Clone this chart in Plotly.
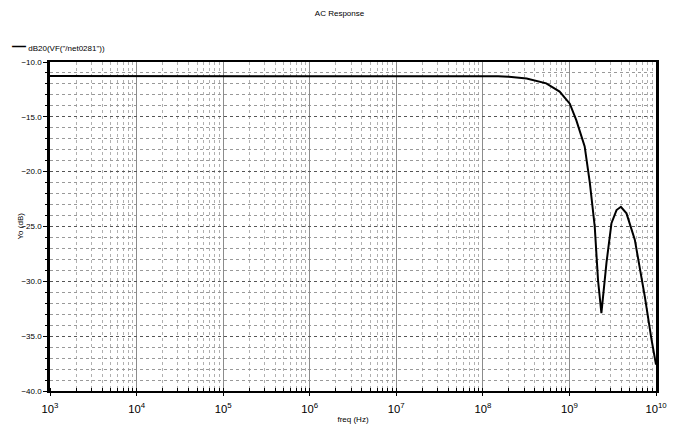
import plotly.graph_objects as go

# Data
freq_hz = [1e3, 1e4, 1e5, 1e6, 1e7, 1e8, 1.5e8, 2e8, 3.2e8, 5.4e8, 7.7e8,
           1.01e9, 1.2e9, 1.5e9, 1.6e9, 1.72e9, 1.96e9, 2.05e9, 2.14e9, 2.34e9,
           2.68e9, 3.06e9, 3.5e9, 3.93e9, 4.56e9, 5.69e9, 7.43e9, 8.87e9, 1e10]
gain_db = [-11.28, -11.28, -11.28, -11.28, -11.28, -11.28, -11.3, -11.35, -11.5, -11.95, -12.7,
           -13.8, -15.3, -17.7, -19.2, -21.0, -25.0, -27.1, -29.9, -32.9,
           -28.3, -24.7, -23.5, -23.2, -23.8, -26.2, -31.4, -35.3, -37.6]

series_name = 'dB20(VF("/net0281"))'
title_text = "AC Response"
x_title = "freq (Hz)"
y_title = "Yo (dB)"

FONT = "Liberation Sans, Arial, sans-serif"

fig = go.Figure()
fig.add_trace(go.Scatter(x=freq_hz, y=gain_db, mode="lines", name=series_name,
                         line=dict(color="black", width=2), showlegend=False))

fig.update_layout(
    width=679, height=428,
    margin=dict(l=50, r=23, t=62, b=37, autoexpand=False),
    paper_bgcolor="white", plot_bgcolor="white",
    font=dict(family=FONT, size=8, color="black"),
    title=dict(text=title_text, x=0.5, xref="container", xanchor="center",
               y=0.97, yref="container", yanchor="middle",
               font=dict(size=8, family=FONT)),
    annotations=[
        dict(text="<span style='font-size:14px'><b>—</b></span> " + series_name,
             xref="paper", yref="paper",
             x=-0.066, y=1.019, xanchor="left", yanchor="bottom",
             showarrow=False, font=dict(size=8, family=FONT)),
        dict(text=y_title, xref="paper", yref="paper", x=-0.0495, y=0.5,
             xanchor="center", yanchor="middle", textangle=-90,
             showarrow=False, font=dict(size=8, family=FONT)),
    ],
)

fig.update_xaxes(
    type="log", range=[3, 10], dtick=1, exponentformat="power", showexponent="all",
    showline=True, linecolor="black", linewidth=2, mirror=True,
    ticks="outside", ticklen=3, tickcolor="black", ticklabelstandoff=4,
    showgrid=True, gridcolor="#8c8c8c", gridwidth=1,
    minor=dict(dtick="D1", showgrid=True, gridcolor="#b0b0b0", griddash="dot",
               ticks="inside", ticklen=3, tickcolor="black"),
    title=dict(text=x_title, standoff=2, font=dict(size=8)),
    tickfont=dict(size=9), zeroline=False, automargin=False,
)
fig.update_yaxes(
    range=[-40, -10], dtick=5, tickformat=".1f",
    showline=True, linecolor="black", linewidth=2.5, mirror=True,
    ticks="outside", ticklen=4, tickcolor="black",
    showgrid=True, gridcolor="#555555", griddash="dot", gridwidth=1,
    minor=dict(dtick=1, showgrid=True, gridcolor="#999999", griddash="dot",
               ticks="outside", ticklen=2, tickcolor="black"),
    tickfont=dict(size=8), zeroline=False, automargin=False,
)

fig.write_html("out.html")
